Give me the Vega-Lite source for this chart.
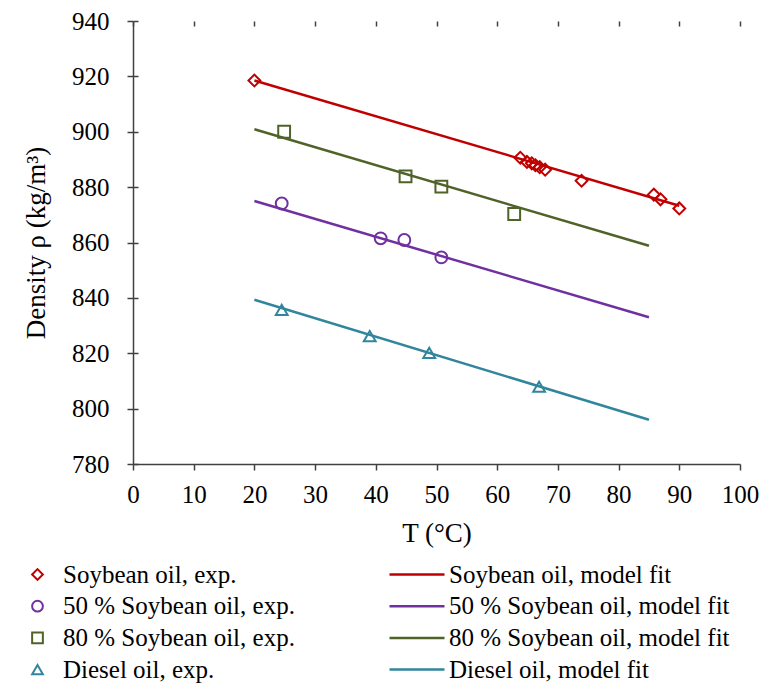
{
  "$schema": "https://vega.github.io/schema/vega-lite/v6.json",
  "width": 607,
  "height": 443,
  "autosize": {"type": "none"},
  "padding": {"left": 133, "top": 21, "right": 21, "bottom": 219},
  "background": "white",
  "config": {
    "font": "Liberation Serif, Times New Roman, Times, serif",
    "view": {"stroke": null},
    "axis": {
      "domainColor": "#404040",
      "domainWidth": 1.5,
      "tickColor": "#404040",
      "tickWidth": 1.5,
      "tickSize": 6,
      "grid": true,
      "gridColor": "#404040",
      "gridWidth": 1.5,
      "gridDash": [5, 3000],
      "gridOpacity": 1,
      "labelFlush": false,
      "labelOverlap": false,
      "labelFont": "Liberation Serif, Times New Roman, Times, serif",
      "labelFontSize": 25,
      "labelColor": "black",
      "titleFont": "Liberation Serif, Times New Roman, Times, serif",
      "titleFontSize": 27,
      "titleFontWeight": "normal",
      "titleColor": "black"
    }
  },
  "datasets": {
    "exp": [
      {"T": 20, "rho": 918.5, "series": "Soybean oil, exp."},
      {"T": 63.8, "rho": 890.6, "series": "Soybean oil, exp."},
      {"T": 64.9, "rho": 889.1, "series": "Soybean oil, exp."},
      {"T": 65.7, "rho": 888.6, "series": "Soybean oil, exp."},
      {"T": 66.3, "rho": 887.9, "series": "Soybean oil, exp."},
      {"T": 67.0, "rho": 887.2, "series": "Soybean oil, exp."},
      {"T": 67.9, "rho": 886.3, "series": "Soybean oil, exp."},
      {"T": 73.9, "rho": 882.3, "series": "Soybean oil, exp."},
      {"T": 85.8, "rho": 877.3, "series": "Soybean oil, exp."},
      {"T": 86.9, "rho": 875.6, "series": "Soybean oil, exp."},
      {"T": 90, "rho": 872.3, "series": "Soybean oil, exp."},
      {"T": 24.5, "rho": 874.1, "series": "50 % Soybean oil, exp."},
      {"T": 40.8, "rho": 861.5, "series": "50 % Soybean oil, exp."},
      {"T": 44.7, "rho": 860.9, "series": "50 % Soybean oil, exp."},
      {"T": 50.8, "rho": 854.6, "series": "50 % Soybean oil, exp."},
      {"T": 24.9, "rho": 900.0, "series": "80 % Soybean oil, exp."},
      {"T": 44.9, "rho": 883.9, "series": "80 % Soybean oil, exp."},
      {"T": 50.8, "rho": 880.2, "series": "80 % Soybean oil, exp."},
      {"T": 62.8, "rho": 870.3, "series": "80 % Soybean oil, exp."},
      {"T": 24.5, "rho": 835.7, "series": "Diesel oil, exp."},
      {"T": 39.0, "rho": 826.2, "series": "Diesel oil, exp."},
      {"T": 48.8, "rho": 820.1, "series": "Diesel oil, exp."},
      {"T": 66.9, "rho": 807.9, "series": "Diesel oil, exp."}
    ],
    "fits": [
      {"T": 20, "rho": 918.5, "fit": "Soybean oil, model fit"},
      {"T": 90, "rho": 873.3, "fit": "Soybean oil, model fit"},
      {"T": 20, "rho": 875.0, "fit": "50 % Soybean oil, model fit"},
      {"T": 85, "rho": 833.0, "fit": "50 % Soybean oil, model fit"},
      {"T": 20, "rho": 900.9, "fit": "80 % Soybean oil, model fit"},
      {"T": 85, "rho": 858.8, "fit": "80 % Soybean oil, model fit"},
      {"T": 20, "rho": 839.3, "fit": "Diesel oil, model fit"},
      {"T": 85, "rho": 796.0, "fit": "Diesel oil, model fit"}
    ]
  },
  "layer": [
    {
      "data": {"name": "fits"},
      "mark": {"type": "line", "strokeWidth": 2.5},
      "encoding": {
        "x": {
          "field": "T", "type": "quantitative",
          "scale": {"domain": [0, 100], "nice": false},
          "axis": {
            "title": "T (°C)",
            "values": [0,5,10,15,20,25,30,35,40,45,50,55,60,65,70,75,80,85,90,95,100],
            "labelExpr": "datum.value % 10 === 0 ? datum.label : ''",
            "tickOpacity": {"condition": {"test": "datum.value % 10 === 0", "value": 1}, "value": 0},
            "labelPadding": 12,
            "titlePadding": 13
          }
        },
        "y": {
          "field": "rho", "type": "quantitative",
          "scale": {"domain": [780, 940], "nice": false, "zero": false},
          "axis": {
            "title": "Density ρ (kg/m³)",
            "values": [780,790,800,810,820,830,840,850,860,870,880,890,900,910,920,930,940],
            "labelExpr": "datum.value % 20 === 0 ? datum.label : ''",
            "tickOpacity": {"condition": {"test": "datum.value % 20 === 0", "value": 1}, "value": 0},
            "labelPadding": 18,
            "titlePadding": 21
          }
        },
        "stroke": {
          "field": "fit", "type": "nominal",
          "scale": {
            "domain": ["Soybean oil, model fit", "50 % Soybean oil, model fit", "80 % Soybean oil, model fit", "Diesel oil, model fit"],
            "range": ["#C00000", "#7030A0", "#4F6228", "#31859C"]
          },
          "legend": {
            "orient": "none", "legendX": 249, "legendY": 541,
            "direction": "vertical", "title": null,
            "labelFont": "Liberation Serif, Times New Roman, Times, serif", "labelFontSize": 25, "labelColor": "black",
            "labelLimit": 500, "rowPadding": 5.7, "symbolSize": 100,
            "symbolType": "M-1,0H10",
            "symbolStrokeWidth": 2.5, "labelOffset": 42
          }
        }
      }
    },
    {
      "data": {"name": "exp"},
      "mark": {"type": "point", "filled": false, "strokeWidth": 2, "size": 140, "opacity": 1},
      "encoding": {
        "x": {"field": "T", "type": "quantitative", "scale": {"domain": [0, 100], "nice": false}},
        "y": {"field": "rho", "type": "quantitative", "scale": {"domain": [780, 940], "nice": false, "zero": false}},
        "color": {
          "field": "series", "type": "nominal",
          "scale": {
            "domain": ["Soybean oil, exp.", "50 % Soybean oil, exp.", "80 % Soybean oil, exp.", "Diesel oil, exp."],
            "range": ["#C00000", "#7030A0", "#4F6228", "#31859C"]
          },
          "legend": {
            "orient": "none", "legendX": -108, "legendY": 541,
            "direction": "vertical", "title": null,
            "labelFont": "Liberation Serif, Times New Roman, Times, serif", "labelFontSize": 25, "labelColor": "black",
            "labelLimit": 500, "rowPadding": 5.7, "symbolSize": 115,
            "symbolStrokeWidth": 2, "labelOffset": 13
          }
        },
        "shape": {
          "field": "series", "type": "nominal",
          "scale": {
            "domain": ["Soybean oil, exp.", "50 % Soybean oil, exp.", "80 % Soybean oil, exp.", "Diesel oil, exp."],
            "range": ["diamond", "circle", "square", "triangle-up"]
          }
        }
      }
    }
  ]
}
